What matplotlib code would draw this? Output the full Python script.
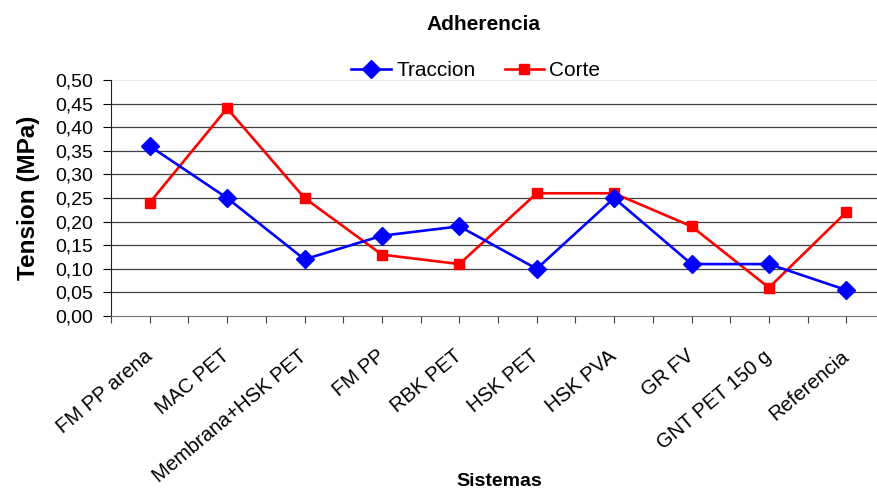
import matplotlib
matplotlib.use("Agg")
import matplotlib.pyplot as plt
import matplotlib.transforms as mtransforms
import numpy as np

sistemas = ["FM PP arena", "MAC PET", "Membrana+HSK PET", "FM PP", "RBK PET",
            "HSK PET", "HSK PVA", "GR FV", "GNT PET 150 g", "Referencia"]
traccion = [0.36, 0.25, 0.12, 0.17, 0.19, 0.10, 0.25, 0.11, 0.11, 0.055]
corte = [0.24, 0.44, 0.25, 0.13, 0.11, 0.26, 0.26, 0.19, 0.06, 0.22]
yticks = [0.0, 0.05, 0.10, 0.15, 0.20, 0.25, 0.30, 0.35, 0.40, 0.45, 0.50]

plt.rcParams["font.family"] = ["Liberation Sans", "DejaVu Sans"]

fig = plt.figure(figsize=(8.77, 4.94), dpi=100)
W, H = 877, 494
left, right, top, bottom = 111, 885, 80, 316
ax = fig.add_axes([left / W, 1 - bottom / H, (right - left) / W, (bottom - top) / H])

x = np.arange(len(sistemas))
ax.plot(x, traccion, color="#0000ff", lw=1.9, marker="D", markersize=9,
        label="Traccion", zorder=4)
ax.plot(x, corte, color="#ff0000", lw=1.9, marker="s", markersize=6.5,
        label="Corte", zorder=3)

ax.set_xlim(-0.5, len(sistemas) - 0.5)
ax.set_ylim(0, 0.5)
ax.set_yticks(yticks)
ax.set_yticklabels([f"{v:.2f}".replace(".", ",") for v in yticks], fontsize=14)
for v in yticks[1:-1]:
    ax.axhline(v, color="#404040", lw=0.9, zorder=1)
ax.axhline(yticks[-1], color="#e6e6e6", lw=0.8, zorder=1)

ax.set_xticks(x)
ax.set_xticks(np.arange(len(sistemas) + 1) - 0.5, minor=True)
ax.set_xticklabels(sistemas, rotation=40, ha="right", rotation_mode="anchor",
                   fontsize=14.5)
ax.tick_params(axis="x", which="both", length=5, width=0.8, color="#404040", pad=17)
ax.tick_params(axis="y", length=6, width=0.8, pad=7)
shift = mtransforms.ScaledTranslation(-6 / 100, 0, fig.dpi_scale_trans)
for lab in ax.get_xticklabels():
    lab.set_transform(lab.get_transform() + shift)

for s in ["top", "right"]:
    ax.spines[s].set_visible(False)
ax.spines["left"].set_color("#202020")
ax.spines["bottom"].set_color("#707070")

ax.set_ylabel("Tension (MPa)", fontsize=17.5, fontweight="bold", labelpad=11)
fig.text(499 / W, 1 - 481 / H, "Sistemas", fontsize=14, fontweight="bold",
         ha="center", va="center")
fig.text(483 / W, 1 - 25 / H, "Adherencia", fontsize=15, fontweight="bold",
         ha="center", va="center")

fig.legend(loc="center", bbox_to_anchor=(476 / W, 1 - 71 / H), ncol=2,
           frameon=False, fontsize=15, handlelength=1.9, columnspacing=1.4,
           handletextpad=0.25)

fig.savefig("out.png", dpi=100)
